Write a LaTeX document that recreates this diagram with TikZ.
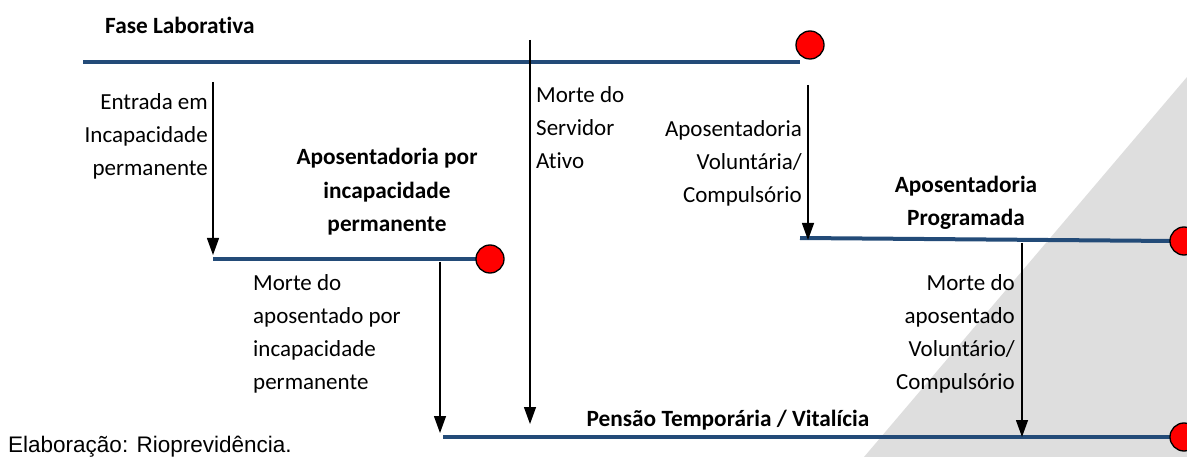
\documentclass[tikz,border=0pt]{standalone}
\usepackage{fontspec}
\setmainfont{Carlito}[Ligatures=NoCommon]
\newfontfamily\arialf{Liberation Sans}
\usetikzlibrary{arrows.meta}
\definecolor{lineblue}{RGB}{35,75,120}
\definecolor{bggrey}{RGB}{222,222,222}
\begin{document}
\begin{tikzpicture}[x=1pt,y=-1pt,
  phase/.style={draw=lineblue,line width=4pt},
  endpt/.style={circle,draw=black,line width=1.3pt,fill=red,minimum size=28pt,inner sep=0pt},
  trans/.style={draw=black,line width=1.3pt,-{Triangle[width=12pt,length=17pt]}},
  lbl/.style={font=\fontsize{23}{33}\selectfont,inner sep=0pt},
  ttl/.style={font=\bfseries\fontsize{23.3}{33.5}\selectfont,inner sep=0pt,align=center}]
\useasboundingbox (0,0) rectangle (1187,457);
\fill[bggrey] (1187,77) -- (864,457) -- (1187,457) -- cycle;
% phase lines
\coordinate (fl0) at (83,62); \coordinate (fl1) at (800,62);
\coordinate (ai0) at (213,259); \coordinate (ai1) at (480,259);
\coordinate (ap0) at (800,238); \coordinate (ap1) at (1172,241);
\coordinate (pe0) at (443,437); \coordinate (pe1) at (1172,437);
\draw[phase] (fl0) -- (fl1);
\draw[phase] (ai0) -- (ai1);
\draw[phase] (ap0) -- (ap1);
\draw[phase] (pe0) -- (pe1);
\node[endpt] (c1) at (810,45) {};
\node[endpt] (c2) at (490,259) {};
\node[endpt] (c3) at (1184,241) {};
\node[endpt] (c4) at (1184,437) {};
% titles
\node[ttl,anchor=west] (t1) at (105,25) {Fase Laborativa};
\node[ttl] (t2) at (387,192) {Aposentadoria por\\incapacidade\\permanente};
\node[ttl] (t3) at (966,203) {Aposentadoria\\Programada};
\node[ttl] (t4) at (728,420) {Pensão Temporária / Vitalícia};
% arrows
\coordinate (a1s) at (213,82); \coordinate (a1e) at (213,255);
\coordinate (a2s) at (530,40); \coordinate (a2e) at (530,424);
\coordinate (a3s) at (808,85); \coordinate (a3e) at (808,240);
\coordinate (a4s) at (440,262); \coordinate (a4e) at (440,433);
\coordinate (a5s) at (1022,243); \coordinate (a5e) at (1022,437);
\draw[trans] (a1s) -- (a1e);
\draw[trans] (a2s) -- (a2e);
\draw[trans] (a3s) -- (a3e);
\draw[trans] (a4s) -- (a4e);
\draw[trans] (a5s) -- (a5e);
% labels
\node[lbl,align=right,anchor=north east] (l1) at (208,93) {Entrada em\\Incapacidade\\permanente};
\node[lbl,align=left,anchor=north west] (l2) at (536,86) {Morte do\\Servidor\\Ativo};
\node[lbl,align=right,anchor=north east] (l3) at (802,120) {Aposentadoria\\Voluntária/\\Compulsório};
\node[lbl,align=left,anchor=north west] (l4) at (253,274) {Morte do\\aposentado por\\incapacidade\\permanente};
\node[lbl,align=right,anchor=north east] (l5) at (1015,274) {Morte do\\aposentado\\Voluntário/\\Compulsório};
\node[font=\arialf\fontsize{22.5}{26}\selectfont,inner sep=0pt,anchor=base west] (src) at (8,452) {Elaboração: Rioprevidência.};
\end{tikzpicture}
\end{document}
